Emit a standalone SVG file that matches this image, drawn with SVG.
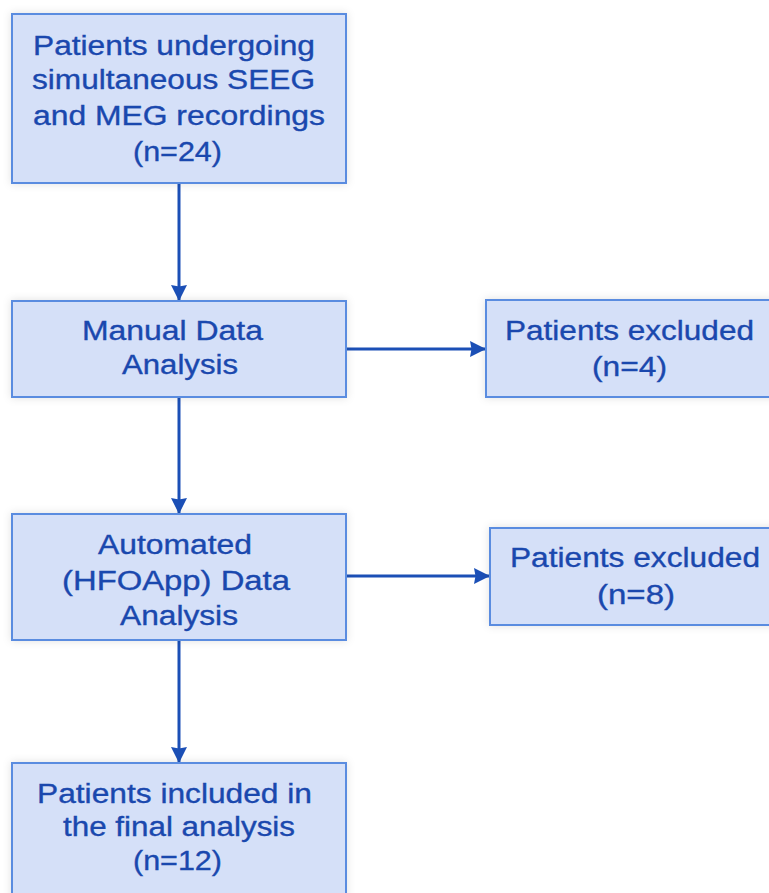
<svg xmlns="http://www.w3.org/2000/svg" width="769" height="893" viewBox="0 0 769 893">
  <defs>
    <filter id="halo" x="-10%" y="-10%" width="120%" height="120%">
      <feDropShadow dx="0" dy="0" stdDeviation="4" flood-color="#000" flood-opacity="0.12"/>
    </filter>
    <marker id="arrow" viewBox="0 0 16 16" refX="16" refY="8" markerWidth="16" markerHeight="16" markerUnits="userSpaceOnUse" orient="auto">
      <path d="M0,0 L16,8 L0,16 L1.5,8 z" fill="#1b4fb6"/>
    </marker>
  </defs>
  <style>
    .box { fill: #d5e0f8; stroke: #5a8ce0; stroke-width: 2; filter: url(#halo); }
    .lbl { font-family: "Liberation Sans", Arial, sans-serif; font-size: 27px; fill: #1a48ae; stroke: #1a48ae; stroke-width: 0.35; }
    .edge { stroke: #1b4fb6; stroke-width: 3; fill: none; marker-end: url(#arrow); }
  </style>
  <rect width="769" height="893" fill="#ffffff"/>

  <g id="connectors">
    <line class="edge" x1="179" y1="183" x2="179" y2="301"/>
    <line class="edge" x1="179" y1="397" x2="179" y2="514"/>
    <line class="edge" x1="179" y1="640" x2="179" y2="763"/>
    <line class="edge" x1="346" y1="349" x2="486" y2="349"/>
    <line class="edge" x1="346" y1="576" x2="490" y2="576"/>
  </g>

  <g id="node-enrolled">
    <rect class="box" x="12" y="14" width="334" height="169"/>
    <text class="lbl" x="33" y="55" textLength="282" lengthAdjust="spacingAndGlyphs">Patients undergoing</text>
    <text class="lbl" x="32" y="89" textLength="283" lengthAdjust="spacingAndGlyphs">simultaneous SEEG</text>
    <text class="lbl" x="33" y="125" textLength="292" lengthAdjust="spacingAndGlyphs">and MEG recordings</text>
    <text class="lbl" x="133" y="161" textLength="89" lengthAdjust="spacingAndGlyphs">(n=24)</text>
  </g>

  <g id="node-manual">
    <rect class="box" x="12" y="301" width="334" height="96"/>
    <text class="lbl" x="82" y="340" textLength="181" lengthAdjust="spacingAndGlyphs">Manual Data</text>
    <text class="lbl" x="122" y="374" textLength="116" lengthAdjust="spacingAndGlyphs">Analysis</text>
  </g>

  <g id="node-excluded-4">
    <rect class="box" x="486" y="300" width="290" height="97"/>
    <text class="lbl" x="505" y="340" textLength="249" lengthAdjust="spacingAndGlyphs">Patients excluded</text>
    <text class="lbl" x="592" y="376" textLength="75" lengthAdjust="spacingAndGlyphs">(n=4)</text>
  </g>

  <g id="node-automated">
    <rect class="box" x="12" y="514" width="334" height="126"/>
    <text class="lbl" x="98" y="554" textLength="154" lengthAdjust="spacingAndGlyphs">Automated</text>
    <text class="lbl" x="62" y="590" textLength="228" lengthAdjust="spacingAndGlyphs">(HFOApp) Data</text>
    <text class="lbl" x="120" y="625" textLength="118" lengthAdjust="spacingAndGlyphs">Analysis</text>
  </g>

  <g id="node-excluded-8">
    <rect class="box" x="490" y="528" width="290" height="97"/>
    <text class="lbl" x="510" y="567" textLength="250" lengthAdjust="spacingAndGlyphs">Patients excluded</text>
    <text class="lbl" x="597" y="604" textLength="78" lengthAdjust="spacingAndGlyphs">(n=8)</text>
  </g>

  <g id="node-included">
    <rect class="box" x="12" y="763" width="334" height="140"/>
    <text class="lbl" x="37" y="803" textLength="275" lengthAdjust="spacingAndGlyphs">Patients included in</text>
    <text class="lbl" x="63" y="836" textLength="232" lengthAdjust="spacingAndGlyphs">the final analysis</text>
    <text class="lbl" x="133" y="870" textLength="89" lengthAdjust="spacingAndGlyphs">(n=12)</text>
  </g>
</svg>
